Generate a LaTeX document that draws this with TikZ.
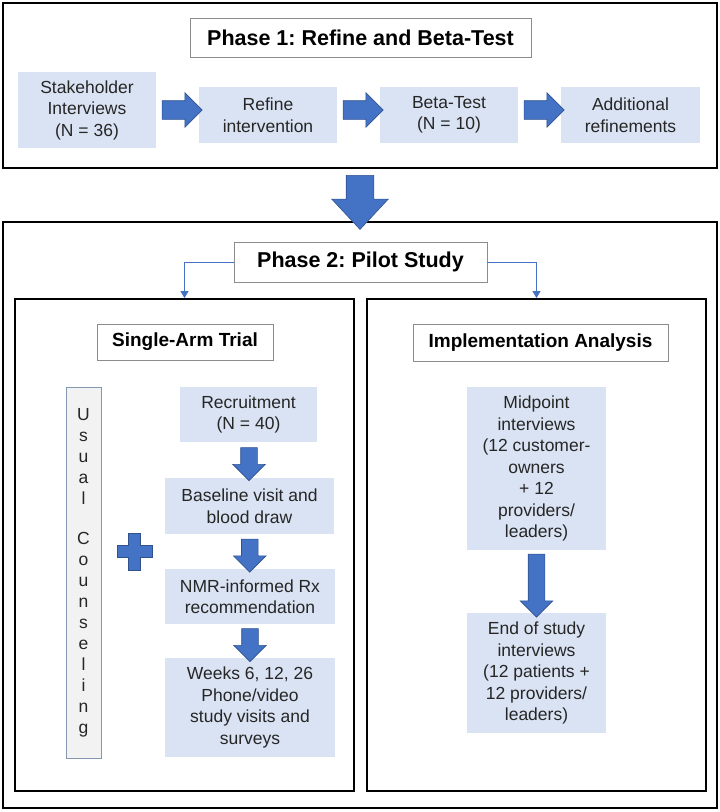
\documentclass[tikz,border=0pt]{standalone}
\usepackage{fontspec}
\setmainfont{Liberation Sans}
\frenchspacing
\usetikzlibrary{calc,positioning,shapes.arrows,arrows.meta}

\definecolor{boxblue}{HTML}{DAE3F3}
\definecolor{arrowblue}{HTML}{4472C4}
\definecolor{arrowedge}{HTML}{2F528F}
\definecolor{titlegray}{HTML}{8C8C8C}
\definecolor{usualedge}{HTML}{8497B0}
\definecolor{usualfill}{HTML}{F2F2F2}
\definecolor{bodytext}{HTML}{262626}

\tikzset{
  bluebox/.style={fill=boxblue, text=bodytext, align=center, inner sep=0pt, font=\fontsize{17.5}{21.5}\selectfont},
  phasetitle/.style={draw=titlegray, line width=0.9pt, fill=white, inner sep=0pt, font=\bfseries\fontsize{21.5}{26}\selectfont},
  armtitle/.style={phasetitle, font=\bfseries\fontsize{19}{23}\selectfont},
  frame/.style={draw=black, line width=1.8pt, inner sep=0pt},
  fatarrow/.style={single arrow, fill=arrowblue, draw=arrowedge, line width=0.6pt, single arrow tip angle=90, inner xsep=0pt},
  link/.style={draw=arrowblue, line width=0.8pt, -{Triangle[length=7pt,width=8pt]}}
}

\begin{document}
\begin{tikzpicture}[x=1pt,y=-1pt]
	\useasboundingbox (0,0) rectangle (720,812);
	% frames
	\node[frame, minimum width=714pt, minimum height=165pt] (p1frame) at (360,85.5) {};
	\node[frame, minimum width=714pt, minimum height=586pt] (p2frame) at (360,515) {};
	\node[frame, minimum width=339pt, minimum height=492pt] (trialframe) at (184.5,545) {};
	\node[frame, minimum width=339pt, minimum height=492pt] (implframe) at (536.5,545) {};
	% phase 1
	\node[phasetitle, minimum width=341pt, minimum height=39pt] (p1title) at (360.5,37.5) {Phase 1: Refine and Beta-Test};
	\node[bluebox, minimum width=138pt, minimum height=76pt] (stake) at (87,110) {Stakeholder\\Interviews\\(N = 36)};
	\node[bluebox, minimum width=138pt, minimum height=56pt] (refine) at (268,115) {Refine\\intervention};
	\node[bluebox, minimum width=138pt, minimum height=56pt] (beta) at (449,115) {Beta-Test\\(N = 10)};
	\node[bluebox, minimum width=139pt, minimum height=56pt] (addl) at (630.5,115) {Additional\\refinements};
	\node[fatarrow, inner ysep=9pt, single arrow head extend=8pt, minimum height=40pt] at ($(stake.east)!0.5!(refine.west |- stake.east)$) {};
	\node[fatarrow, inner ysep=9pt, single arrow head extend=8pt, minimum height=40pt] at ($(refine.east |- stake.east)!0.5!(beta.west |- stake.east)$) {};
	\node[fatarrow, inner ysep=9pt, single arrow head extend=8pt, minimum height=40pt] at ($(beta.east |- stake.east)!0.5!(addl.west |- stake.east)$) {};
	% between phases
	\node[fatarrow, rotate=-90, inner ysep=13.5pt, single arrow head extend=14.5pt, single arrow tip angle=86, minimum height=54pt] at ($(p1frame.south)!0.5!(p2frame.north)$) {};
	% phase 2
	\node[phasetitle, minimum width=253pt, minimum height=40pt] (p2title) at (360.5,262) {Phase 2: Pilot Study};
	\draw[link] (p2title.west) -| (trialframe.north);
	\draw[link] (p2title.east) -| (implframe.north);
	\node[armtitle, minimum width=176pt, minimum height=36pt] (trialtitle) at (185,342) {Single-Arm Trial};
	\node[armtitle, minimum width=255pt, minimum height=37pt] (impltitle) at (540.5,342.5) {Implementation Analysis};
	% single-arm trial
	\node[bluebox, draw=usualedge, fill=usualfill, line width=0.8pt, minimum width=35pt, minimum height=371pt, font=\fontsize{17.5}{21}\selectfont] (usual) at (83.5,572.5) {U\\s\\u\\a\\l\\[19pt]C\\o\\u\\n\\s\\e\\l\\i\\n\\g};
	\filldraw[fill=arrowblue, draw=arrowedge, line width=0.6pt] (128.5,533) -- (140.5,533) -- (140.5,545.5) -- (152,545.5) -- (152,557.5) -- (140.5,557.5) -- (140.5,570) -- (128.5,570) -- (128.5,557.5) -- (117,557.5) -- (117,545.5) -- (128.5,545.5) -- cycle;
	\node[bluebox, minimum width=137pt, minimum height=55pt] (recruit) at (248.5,414.5) {Recruitment\\(N = 40)};
	\node[bluebox, minimum width=169pt, minimum height=56pt] (baseline) at (249.5,506) {Baseline visit and\\blood draw};
	\node[bluebox, minimum width=170pt, minimum height=55pt] (nmr) at (250,596.5) {NMR-informed Rx\\recommendation};
	\node[bluebox, minimum width=170pt, minimum height=99pt] (weeks) at (250,707.5) {Weeks 6, 12, 26\\Phone/video\\study visits and\\surveys};
	\node[fatarrow, rotate=-90, inner ysep=8pt, single arrow head extend=8pt, minimum height=33pt] at ($(recruit.south)!0.5!(baseline.north)$) {};
	\node[fatarrow, rotate=-90, inner ysep=8pt, single arrow head extend=8pt, minimum height=33pt] at ($(baseline.south)!0.5!(nmr.north)$) {};
	\node[fatarrow, rotate=-90, inner ysep=8pt, single arrow head extend=8pt, minimum height=33pt] at ($(nmr.south)!0.5!(weeks.north)$) {};
	% implementation analysis
	\node[bluebox, minimum width=139pt, minimum height=163pt] (midpt) at (536.5,468.5) {Midpoint\\interviews\\(12 customer-\\owners\\+ 12\\providers/\\leaders)};
	\node[bluebox, minimum width=139pt, minimum height=120pt] (endst) at (536.5,673) {End of study\\interviews\\(12 patients +\\12 providers/\\leaders)};
	\node[fatarrow, rotate=-90, inner ysep=8pt, single arrow head extend=8pt, minimum height=63pt] at ($(midpt.south)!0.5!(endst.north)$) {};
\end{tikzpicture}
\end{document}
